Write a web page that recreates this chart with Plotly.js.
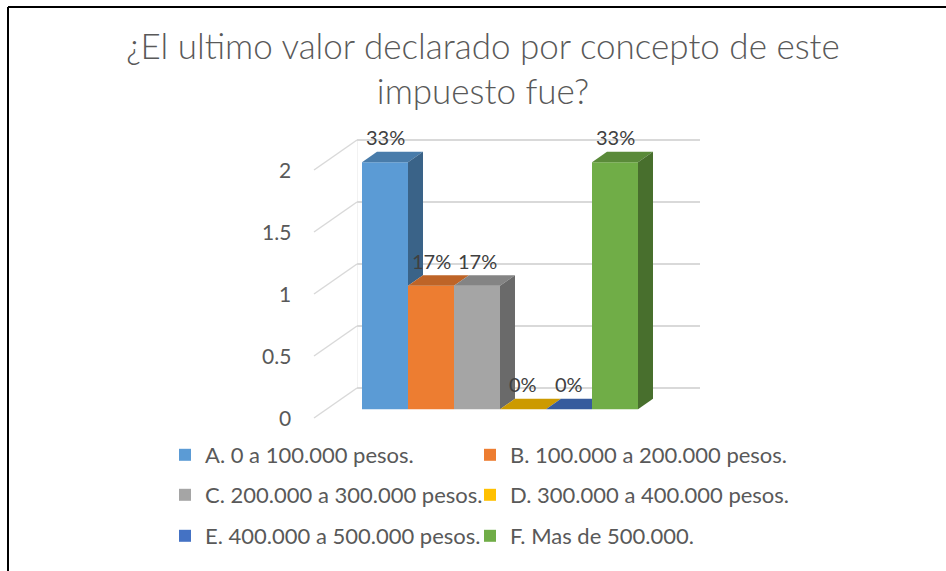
<!DOCTYPE html>
<html><head><meta charset="utf-8">
<script src="https://cdn.plot.ly/plotly-3.0.1.min.js"></script>
<style>html,body{margin:0;padding:0;background:#fff;overflow:hidden}#chart{width:946px;height:571px}</style>
</head><body><div id="chart"></div>
<script>
// ---------- data ----------
const seriesNames = ["A. 0 a 100.000 pesos.", "B. 100.000 a 200.000 pesos.", "C. 200.000 a 300.000 pesos.",
                     "D. 300.000 a 400.000 pesos.", "E. 400.000 a 500.000 pesos.", "F. Mas de 500.000."];
const seriesValues = [2, 1, 1, 0, 0, 2];
const seriesColors = ["#5B9BD5", "#ED7D31", "#A5A5A5", "#FFC000", "#4472C4", "#70AD47"];
const yTickValues = [0, 0.5, 1, 1.5, 2];
const yTickLabels = ["0", "0.5", "1", "1.5", "2"];
const titleText = "¿El ultimo valor declarado por concepto de este<br>impuesto fue?";

// ---------- geometry (pixels) ----------
const W = 946, H = 571;
const px = v => v / W, py = v => 1 - v / H;
const FONT = "Lato, 'Open Sans', sans-serif";
const TXT = "#595959";

// back wall (grid) axis
const wallLeft = 357, wallRight = 700, wallZero = 388, wallUnit = 124;
const wallTopPx = 110, wallBotPx = 420;
// bar (front face) axis
const plotLeft = 314, plotRight = 700, plotTop = 120, plotBottom = 430;
const barStart = 362, slotPx = 46, barZero = 409.3, barUnit = 123.5;
const depthX = 15 / slotPx, depthY = 10.6 / barUnit;
const diagDX = 43, diagDY = 30;

function shade(hex, f) {
  const n = parseInt(hex.slice(1), 16);
  const r = Math.round(((n >> 16) & 255) * f), g = Math.round(((n >> 8) & 255) * f), b = Math.round((n & 255) * f);
  return `rgb(${r},${g},${b})`;
}

const total = seriesValues.reduce((a, b) => a + b, 0);
const traces = [];
// empty trace so that the back-wall subplot exists
traces.push({type: "scatter", x: [], y: [], xaxis: "x", yaxis: "y", showlegend: false, hoverinfo: "skip"});

const legendIds = ["legend", "legend2", "legend3", "legend4", "legend5", "legend6"];
seriesValues.forEach((v, i) => {
  traces.push({
    type: "bar", x: [i], y: [v], width: [1], name: seriesNames[i],
    marker: {color: seriesColors[i], line: {width: 0}},
    xaxis: "x2", yaxis: "y2", legend: legendIds[i], hoverinfo: "skip"
  });
});
// 3-D top and side faces derived from the values
seriesValues.forEach((v, i) => {
  const xl = i - 0.5, xr = i + 0.5;
  const hasNext = i + 1 < seriesValues.length;
  const next = hasNext ? seriesValues[i + 1] : 0;
  const clipped = hasNext && next > v;
  const topX = clipped ? [xl, xr, xr, xl + depthX] : [xl, xr, xr + depthX, xl + depthX];
  const topY = [v, v, v + depthY, v + depthY];
  traces.push({type: "scatter", mode: "lines", x: topX.concat([topX[0]]), y: topY.concat([topY[0]]),
    fill: "toself", fillcolor: shade(seriesColors[i], 0.8), line: {width: 0, color: "rgba(0,0,0,0)"},
    xaxis: "x2", yaxis: "y2", showlegend: false, hoverinfo: "skip"});
  const bottom = hasNext ? Math.max(0, Math.min(next, v)) : 0;
  if (v - bottom > 0) {
    traces.push({type: "scatter", mode: "lines",
      x: [xr, xr + depthX, xr + depthX, xr, xr], y: [bottom, bottom + depthY, v + depthY, v, bottom],
      fill: "toself", fillcolor: shade(seriesColors[i], 0.64), line: {width: 0, color: "rgba(0,0,0,0)"},
      xaxis: "x2", yaxis: "y2", showlegend: false, hoverinfo: "skip"});
  }
});

const annotations = [];
seriesValues.forEach((v, i) => {
  annotations.push({xref: "x2", yref: "y2", x: i, y: v, yshift: 25, showarrow: false,
    text: Math.round(v / total * 100) + "%", font: {family: FONT, size: 20, color: "#404040"},
    xanchor: "center", yanchor: "middle"});
});
yTickValues.forEach((t, k) => {
  annotations.push({xref: "paper", yref: "y", x: px(293), y: t, yshift: -diagDY, showarrow: false,
    text: yTickLabels[k], font: {family: FONT, size: 21, color: TXT}, xanchor: "right", yanchor: "middle"});
});

const shapes = [];
yTickValues.forEach(t => {
  shapes.push({type: "line", xref: "paper", yref: "y", ysizemode: "pixel", yanchor: t,
    x0: px(wallLeft - diagDX), x1: px(wallLeft), y0: -diagDY, y1: 0,
    line: {color: "#d9d9d9", width: 1.5}, layer: "below"});
});
// left edge of the back wall
shapes.push({type: "line", xref: "x", yref: "y", x0: 0, x1: 0,
  y0: yTickValues[0], y1: yTickValues[yTickValues.length - 1],
  line: {color: "#e6e6e6", width: 1}, layer: "below"});
// frame of the picture
shapes.push({type: "line", xref: "paper", yref: "paper", x0: px(8), x1: 1.02, y0: py(7), y1: py(7), line: {color: "#000", width: 2}});
shapes.push({type: "line", xref: "paper", yref: "paper", x0: px(8), x1: px(8), y0: py(7), y1: -0.02, line: {color: "#000", width: 2}});

const legendBase = {orientation: "h", xanchor: "left", yanchor: "middle", bgcolor: "rgba(0,0,0,0)",
  font: {family: FONT, size: 22, color: TXT}, itemclick: false, itemdoubleclick: false};
const legendCols = [165, 470], legendRows = [455, 495, 536];

const layout = {
  width: W, height: H, autosize: false,
  margin: {l: 0, r: 0, t: 0, b: 0},
  paper_bgcolor: "#fff", plot_bgcolor: "rgba(0,0,0,0)",
  font: {family: FONT, color: TXT},
  title: {text: titleText, font: {family: FONT, size: 35, color: TXT, weight: 300}, xref: "container", yref: "container",
    x: px(483), xanchor: "center", y: py(58.5), yanchor: "top"},
  barmode: "overlay",
  xaxis: {domain: [px(wallLeft), px(wallRight)], range: [0, 1], showgrid: false, zeroline: false,
    showticklabels: false, showline: false, anchor: "y"},
  yaxis: {domain: [py(wallBotPx), py(wallTopPx)],
    range: [(wallZero - wallBotPx) / wallUnit, (wallZero - wallTopPx) / wallUnit],
    tickvals: yTickValues, showgrid: true, gridcolor: "#d9d9d9", gridwidth: 1.5, zeroline: false,
    showticklabels: false, ticks: "", showline: false, anchor: "x"},
  xaxis2: {domain: [px(plotLeft), px(plotRight)],
    range: [-0.5 - (barStart - plotLeft) / slotPx, -0.5 + (plotRight - barStart) / slotPx],
    showgrid: false, zeroline: false, showticklabels: false, showline: false, anchor: "y2"},
  yaxis2: {domain: [py(plotBottom), py(plotTop)],
    range: [(barZero - plotBottom) / barUnit, (barZero - plotTop) / barUnit],
    showgrid: false, zeroline: false, showticklabels: false, showline: false, anchor: "x2"},
  annotations: annotations,
  shapes: shapes,
  hovermode: false,
  showlegend: true
};
legendIds.forEach((id, i) => {
  layout[id] = Object.assign({}, legendBase, {x: px(legendCols[i % 2]), y: py(legendRows[Math.floor(i / 2)])});
});

Plotly.newPlot("chart", traces, layout, {staticPlot: true, displayModeBar: false});
</script>
</body></html>
